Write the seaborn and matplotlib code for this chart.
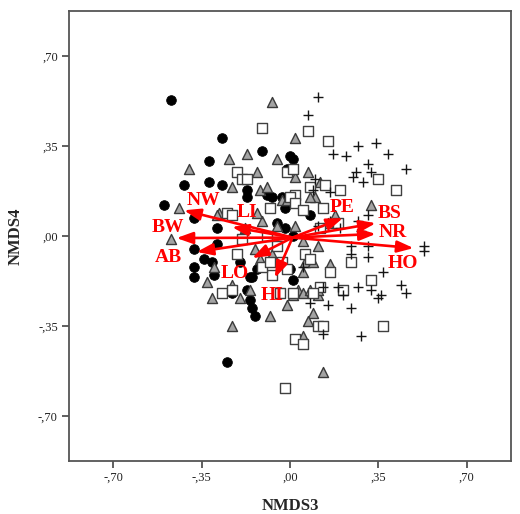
import matplotlib
matplotlib.use("Agg")
import matplotlib.pyplot as plt
import seaborn as sns
import pandas as pd
import numpy as np

# ---- data (NMDS3, NMDS4 scores) ----
circ_x = [-0.47, -0.27, -0.11, -0.32, 0.00, 0.01, -0.42, -0.32, -0.27, -0.01,
          -0.17, -0.17, -0.09, -0.07, -0.50, -0.38, -0.29, -0.29, -0.38, -0.34,
          -0.31, -0.38, -0.38, -0.30, -0.17, -0.16, -0.15, -0.14, -0.15, -0.25,
          -0.23, 0.08, 0.01, 0.01, -0.02, 0.00, -0.03, -0.02, -0.20, -0.05,
          -0.13, -0.16]
circ_y = [0.53, 0.38, 0.33, 0.29, 0.31, 0.30, 0.20, 0.21, 0.20, 0.26,
          0.18, 0.15, 0.16, 0.15, 0.12, 0.07, 0.03, -0.03, -0.05, -0.09,
          -0.10, -0.12, -0.16, -0.15, -0.21, -0.25, -0.28, -0.31, -0.16, -0.49,
          -0.22, 0.08, 0.00, -0.17, 0.11, -0.13, 0.15, 0.03, -0.10, 0.05,
          -0.13, -0.16]

tri_x = [-0.07, 0.02, -0.17, -0.24, -0.05, -0.40, -0.13, 0.02, -0.23, -0.12,
         -0.09, 0.07, 0.12, 0.32, 0.10, -0.44, -0.47, -0.33, -0.28, -0.11,
         -0.03, 0.02, -0.14, -0.07, -0.12, -0.31, -0.23, -0.23, -0.08, -0.20,
         -0.16, -0.30, -0.01, -0.13, -0.29, 0.09, 0.07, 0.05, 0.13, 0.03,
         0.11, 0.05, 0.11, 0.06, 0.09, 0.05, 0.16, 0.11, 0.05, 0.01,
         0.08, -0.01, 0.08, 0.15, 0.18, -0.05, -0.18]
tri_y = [0.52, 0.38, 0.32, 0.30, 0.30, 0.26, 0.25, 0.23, 0.19, 0.18,
         0.19, 0.25, 0.21, 0.12, 0.15, 0.11, -0.01, -0.18, 0.09, 0.06,
         0.14, 0.04, -0.05, -0.07, -0.09, -0.24, -0.19, -0.35, -0.31, -0.24,
         -0.21, -0.12, -0.27, 0.09, 0.08, -0.30, -0.33, -0.39, -0.53, -0.21,
         -0.23, -0.02, -0.04, -0.10, -0.10, -0.14, -0.11, -0.21, -0.22, -0.23,
         0.15, 0.14, -0.21, 0.05, 0.08, 0.04, 0.03]

sq_x = [-0.11, -0.21, -0.19, -0.17, -0.01, 0.01, 0.02, 0.07, 0.15, 0.08,
        0.14, 0.20, 0.35, 0.42, -0.19, -0.21, -0.08, 0.00, 0.02, -0.25,
        -0.09, -0.05, -0.03, -0.07, -0.27, -0.23, -0.11, 0.01, -0.08, -0.01,
        -0.04, 0.05, 0.13, 0.12, 0.06, 0.08, 0.16, 0.24, 0.32, 0.12,
        0.21, 0.09, 0.37, 0.11, 0.02, 0.05, 0.13, -0.02, -0.23, 0.19]
sq_y = [0.42, 0.25, 0.22, 0.22, 0.25, 0.26, 0.16, 0.41, 0.37, 0.19,
        0.20, 0.18, 0.22, 0.18, -0.01, -0.07, 0.11, 0.15, 0.13, 0.09,
        0.00, -0.04, -0.10, -0.15, -0.22, -0.21, -0.12, -0.22, -0.10, -0.13,
        -0.22, 0.10, 0.11, 0.03, -0.07, -0.09, -0.14, -0.10, -0.17, -0.20,
        -0.21, -0.22, -0.35, -0.35, -0.40, -0.42, -0.35, -0.59, 0.08, 0.05]

plus_x = [0.11, 0.07, 0.17, 0.22, 0.27, 0.34, 0.39, 0.31, 0.26, 0.25,
          0.32, 0.29, 0.46, 0.10, 0.16, 0.27, 0.28, 0.24, 0.24, 0.31,
          0.31, 0.53, 0.53, 0.37, 0.44, 0.46, 0.32, 0.36, 0.27, 0.19,
          0.21, 0.13, 0.16, 0.11, 0.31, 0.15, 0.13, 0.28, 0.24, 0.35,
          0.08, 0.09, 0.20, 0.05]
plus_y = [0.54, 0.47, 0.32, 0.31, 0.35, 0.36, 0.32, 0.28, 0.25, 0.23,
          0.25, 0.21, 0.26, 0.22, 0.17, 0.06, 0.02, -0.04, -0.07, -0.04,
          -0.08, -0.04, -0.06, -0.14, -0.19, -0.22, -0.21, -0.23, -0.20, -0.20,
          -0.23, -0.20, 0.06, 0.04, 0.08, -0.27, -0.38, -0.39, -0.28, -0.24,
          -0.26, 0.18, 0.03, -0.12]

vec_names = ["NW", "LI", "BW", "AB", "LO", "HI", "PE", "BS", "NR", "HO"]
vec_x = [-0.42, -0.23, -0.45, -0.37, -0.15, -0.06, 0.21, 0.34, 0.34, 0.49]
vec_y = [0.10, 0.035, -0.008, -0.062, -0.086, -0.163, 0.07, 0.05, 0.008, -0.047]
lab_x = [-0.345, -0.17, -0.483, -0.483, -0.218, -0.07, 0.206, 0.396, 0.408, 0.448]
lab_y = [0.14, 0.09, 0.035, -0.082, -0.144, -0.23, 0.109, 0.086, 0.012, -0.105]
vec_origin = (0.01, -0.006)

ticks = [-0.70, -0.35, 0.00, 0.35, 0.70]
tick_labels = ["-,70", "-,35", ",00", ",35", ",70"]

# ---- figure ----
sns.set_style("white")
plt.rcParams["font.family"] = ["Liberation Serif", "DejaVu Serif"]

fig = plt.figure(figsize=(5.2, 5.14), dpi=100)
ax = fig.add_axes([0.1327, 0.1031, 0.8500, 0.8755])

sns.scatterplot(x=circ_x, y=circ_y, ax=ax, marker="o", s=48, color="black",
                edgecolor="black", linewidth=0.6, zorder=3)
sns.scatterplot(x=tri_x, y=tri_y, ax=ax, marker="^", s=52, color="#a3a3a3",
                edgecolor="#3a3a3a", linewidth=1.0, zorder=3)
sns.scatterplot(x=sq_x, y=sq_y, ax=ax, marker="s", s=50, color="white",
                edgecolor="#404040", linewidth=1.0, zorder=3)
sns.scatterplot(x=plus_x, y=plus_y, ax=ax, marker="+", s=60, color="#151515",
                linewidth=1.0, zorder=3)

for name, vx, vy, lx, ly in zip(vec_names, vec_x, vec_y, lab_x, lab_y):
    ax.annotate("", xy=(vx, vy), xytext=vec_origin,
                arrowprops=dict(arrowstyle="-|>,head_length=0.7,head_width=0.25",
                                color="#ff0000", lw=1.9,
                                mutation_scale=14, shrinkA=0, shrinkB=0),
                zorder=5)
    ax.text(lx, ly, name, color="#ff0000", fontsize=14, fontweight="bold",
            ha="center", va="center", zorder=6)

ax.set_xlim(-0.876, 0.876)
ax.set_ylim(-0.875, 0.875)
ax.set_xticks(ticks)
ax.set_xticklabels(tick_labels)
ax.set_yticks(ticks)
ax.set_yticklabels(tick_labels)
ax.tick_params(axis="both", which="both", direction="out", length=5, width=1.2,
               color="#444444", labelsize=9, labelcolor="#222222",
               top=False, right=False, bottom=True, left=True, pad=3)
for sp in ax.spines.values():
    sp.set_color("#555555")
    sp.set_linewidth(1.3)
    sp.set_visible(True)

ax.set_xlabel("NMDS3", fontsize=12, fontweight="bold", labelpad=10)
ax.set_ylabel("NMDS4", fontsize=12, fontweight="bold", labelpad=10)
ax.grid(False)

fig.savefig("out.png", dpi=100)
